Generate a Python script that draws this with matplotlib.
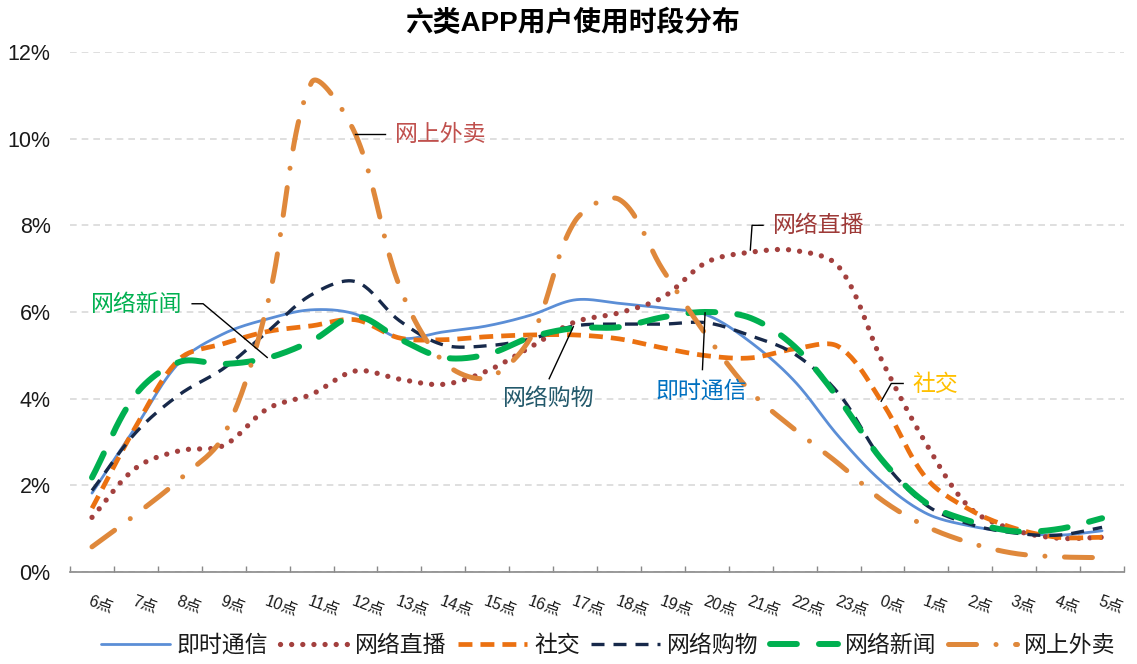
import numpy as np
import matplotlib
matplotlib.use('Agg')
import matplotlib.pyplot as plt
from matplotlib.lines import Line2D

plt.rcParams['font.family'] = ['Liberation Sans', 'Noto Sans CJK SC', 'DejaVu Sans']

hours = ['6点', '7点', '8点', '9点', '10点', '11点', '12点', '13点', '14点', '15点',
         '16点', '17点', '18点', '19点', '20点', '21点', '22点', '23点', '0点', '1点',
         '2点', '3点', '4点', '5点']

im = [1.82, 3.35, 4.85, 5.5, 5.84, 6.05, 5.95, 5.4, 5.54, 5.68, 5.93, 6.28,
      6.2, 6.09, 5.93, 5.3, 4.4, 3.13, 2.07, 1.35, 1.06, 0.92, 0.85, 0.95]
live = [1.26, 2.4, 2.8, 2.92, 3.77, 4.1, 4.64, 4.45, 4.33, 4.64, 5.2, 5.77,
        5.98, 6.34, 7.15, 7.38, 7.42, 7.05, 4.85, 2.95, 1.47, 0.97, 0.78, 0.8]
social = [1.47, 3.36, 4.92, 5.27, 5.55, 5.68, 5.82, 5.4, 5.36, 5.43, 5.47, 5.47,
          5.38, 5.17, 4.99, 4.94, 5.15, 5.2, 3.9, 2.16, 1.43, 1.01, 0.8, 0.8]
shop = [1.88, 3.22, 4.1, 4.7, 5.55, 6.4, 6.7, 5.8, 5.24, 5.22, 5.38, 5.68,
        5.72, 5.72, 5.75, 5.45, 5.03, 4.12, 2.57, 1.54, 1.1, 0.9, 0.85, 1.03]
news = [2.18, 4.1, 4.85, 4.8, 4.94, 5.33, 5.9, 5.38, 4.95, 5.02, 5.42, 5.63,
        5.65, 5.88, 6.0, 5.86, 5.2, 4.0, 2.57, 1.59, 1.17, 0.94, 0.99, 1.24]
food = [0.58, 1.33, 2.14, 3.15, 6.2, 11.3, 10.1, 6.6, 4.85, 4.48, 5.43, 8.1,
        8.6, 6.97, 5.45, 4.16, 3.29, 2.5, 1.65, 1.05, 0.67, 0.43, 0.35, 0.33]

names = ['即时通信', '网络直播', '社交', '网络购物', '网络新闻', '网上外卖']
series = [im, live, social, shop, news, food]
colors = ['#5B8ED6', '#A3403E', '#EB7111', '#17294A', '#00B050', '#DF883B']
widths = [2.0, 3.8, 3.4, 2.4, 4.3, 3.6]
dashes = [None, (0.01, 2.1), (2.95, 1.7), (3.9, 2.7), (4.5, 3.7), (5.6, 3.9, 0.01, 3.9)]
caps = ['round', 'round', 'butt', 'butt', 'round', 'round']


def smooth(y, n=24):
    # smoothed line like excel: bezier segments, tangents weighted by segment length
    pts = np.column_stack([np.arange(len(y), dtype=float), np.asarray(y, float)])
    P = np.vstack([pts[0], pts, pts[-1]])
    seg = np.hypot(*np.diff(P, axis=0).T)
    t = np.linspace(0, 1, n, endpoint=False)[:, None]
    out = []
    for i in range(1, len(P) - 2):
        p0, p1, p2, p3 = P[i - 1], P[i], P[i + 1], P[i + 2]
        a, b, c = seg[i - 1], seg[i], seg[i + 1]
        c1 = p1 + (p2 - p0) * (b / (a + b if a + b else 1)) / 3
        c2 = p2 - (p3 - p1) * (b / (b + c if b + c else 1)) / 3
        out.append((1 - t) ** 3 * p1 + 3 * (1 - t) ** 2 * t * c1
                   + 3 * (1 - t) * t ** 2 * c2 + t ** 3 * p2)
    out.append(pts[-1:])
    out = np.vstack(out)
    return out[:, 0], out[:, 1]


fig = plt.figure(figsize=(11.37, 6.64), dpi=100)
ax = fig.add_axes([0.0616, 0.1386, 0.9270, 0.7831])

handles = []
for name, y, c, w, d, cap in zip(names, series, colors, widths, dashes, caps):
    sx, sy = smooth(y)
    kw = dict(color=c, lw=w, solid_capstyle='round', dash_capstyle=cap, label=name)
    if d is not None:
        kw['linestyle'] = (0, d)
    ax.plot(sx, sy, **kw)
    handles.append(Line2D([], [], **kw))

ax.set_xlim(-0.5, 23.5)
ax.set_ylim(0, 12)
ax.set_yticks(np.arange(0, 13, 2))
ax.set_yticklabels(['%d%%' % v for v in range(0, 13, 2)], fontsize=15.5, color='#1a1a1a')
ax.tick_params(axis='y', length=0, pad=14)
ax.yaxis.grid(True, color='#D9D9D9', lw=1.2, linestyle=(0, (4, 3)))
ax.set_axisbelow(True)

ax.set_xticks(range(len(hours)))
ax.set_xticklabels(hours, fontsize=11.5, rotation=-20, ha='left', va='top',
                   rotation_mode='anchor', color='#1a1a1a')
ax.set_xticks(np.arange(-0.5, 24, 1), minor=True)
ax.tick_params(axis='x', which='major', length=0, pad=15)
ax.tick_params(axis='x', which='minor', length=4, direction='in', color='#898989', width=1.0)

for s in ['top', 'right', 'left']:
    ax.spines[s].set_visible(False)
ax.spines['bottom'].set_color('#898989')
ax.spines['bottom'].set_linewidth(1.2)

# labels with connector lines
notes = [
    ('网上外卖', '#C0504D', (6.9, 10.1), 'left', [(5.99, 10.1), (6.67, 10.1)]),
    ('网络直播', '#9E3A38', (15.51, 7.99), 'left', [(14.99, 7.43), (15.03, 8.0), (15.28, 8.0)]),
    ('社交', '#FFC000', (18.68, 4.33), 'left', [(17.97, 3.94), (18.2, 4.35), (18.47, 4.35)]),
    ('即时通信', '#0070C0', (13.87, 4.17), 'center', [(13.96, 5.98), (13.9, 4.67)]),
    ('网络购物', '#23596B', (10.41, 4.0), 'center', [(10.96, 5.66), (10.41, 4.46)]),
    ('网络新闻', '#00B050', (2.05, 6.17), 'right', [(2.28, 6.19), (2.53, 6.19), (3.99, 4.95)]),
]
for txt, c, xy, ha, path in notes:
    px, py = zip(*path)
    ax.plot(px, py, color='black', lw=1.0, zorder=5)
    ax.text(xy[0], xy[1], txt, color=c, fontsize=16.5, ha=ha, va='center', zorder=6)

fig.suptitle('六类APP用户使用时段分布', x=0.503, y=0.965, va='center',
             fontsize=20, fontweight='bold')

fig.legend(handles=handles, loc='center', bbox_to_anchor=(0.535, 0.028), ncol=6,
           frameon=False, fontsize=16.5, handlelength=3.0, handletextpad=0.3,
           columnspacing=0.5, labelcolor='#1a1a1a')

fig.savefig('out.png', dpi=100)
